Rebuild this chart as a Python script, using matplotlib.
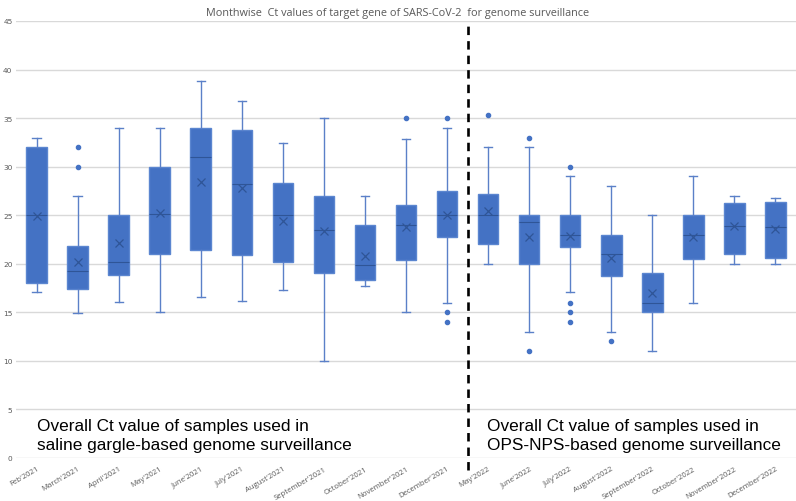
import matplotlib
matplotlib.use("Agg")
import matplotlib.pyplot as plt

months = ["Feb'2021", "March'2021", "April'2021", "May'2021", "June'2021",
          "July'2021", "August'2021", "September'2021", "October'2021",
          "November'2021", "December'2021", "May'2022", "June'2022",
          "July'2022", "August'2022", "September'2022", "October'2022",
          "November'2022", "December'2022"]

whis_lo = [17.1, 14.9, 16.1, 15.0, 16.55, 16.2, 17.3, 10.0, 17.7, 15.0, 16.0,
           20.0, 13.0, 17.1, 13.0, 11.05, 16.0, 20.0, 20.0]
q1 = [18.0, 17.4, 18.85, 21.0, 21.45, 20.9, 20.2, 19.1, 18.3, 20.4, 22.75,
      22.0, 20.0, 21.7, 18.7, 15.0, 20.5, 21.0, 20.6]
medians = [25.0, 19.3, 20.15, 25.1, 31.0, 28.2, 25.0, 23.5, 19.9, 24.0, 25.0,
           25.0, 24.3, 23.0, 21.0, 16.0, 23.0, 23.9, 23.75]
q3 = [32.0, 21.8, 25.0, 30.0, 34.0, 33.8, 28.3, 27.0, 24.0, 26.05, 27.5,
      27.2, 25.0, 25.0, 23.0, 19.0, 25.0, 26.3, 26.4]
whis_hi = [33.0, 27.0, 34.0, 34.0, 38.8, 36.8, 32.4, 35.0, 27.0, 32.9, 34.0,
           32.0, 32.0, 29.0, 28.0, 25.0, 29.0, 27.0, 26.8]
means = [24.9, 20.15, 22.1, 25.2, 28.4, 27.85, 24.4, 23.4, 20.8, 23.8, 25.0,
         25.4, 22.8, 22.9, 20.6, 17.0, 22.8, 23.9, 23.6]
outliers = [[], [30, 32], [], [], [], [], [], [], [], [35], [35, 15, 14],
            [35.3], [33, 11], [30, 16, 15, 14], [12], [], [], [], []]

title = "Monthwise  Ct values of target gene of SARS-CoV-2  for genome surveillance"
note_left = "Overall Ct value of samples used in\nsaline gargle-based genome surveillance"
note_right = "Overall Ct value of samples used in\nOPS-NPS-based genome surveillance"

blue = "#4472C4"
dark = "#2F5597"
grey = "#595959"

stats = []
for i in range(len(months)):
    stats.append(dict(whislo=whis_lo[i], q1=q1[i], med=medians[i], q3=q3[i],
                      whishi=whis_hi[i], mean=means[i], fliers=outliers[i]))

fig = plt.figure(figsize=(7.96, 5.02), dpi=100)
ax = fig.add_axes([16 / 796, 43 / 502, 780 / 796, 437 / 502])

ax.bxp(stats, positions=range(1, len(months) + 1), widths=0.5, capwidths=0.2,
       patch_artist=True, showmeans=True,
       boxprops=dict(facecolor=blue, edgecolor="#5B86D0", linewidth=1),
       whiskerprops=dict(color="#5B80C8", linewidth=1),
       capprops=dict(color="#5B80C8", linewidth=1),
       medianprops=dict(color=dark, linewidth=0.8),
       meanprops=dict(marker="x", markeredgecolor=dark, markersize=6,
                      markeredgewidth=0.9),
       flierprops=dict(marker="o", markerfacecolor=blue, markeredgecolor=blue,
                       markersize=3))

ax.set_xlim(0.5, len(months) + 0.5)
ax.set_ylim(0, 45)
ax.set_yticks(range(0, 46, 5))
ax.yaxis.grid(True, color="#D9D9D9", linewidth=1)
ax.set_axisbelow(True)
for s in ax.spines.values():
    s.set_visible(False)
ax.tick_params(length=0)
ax.tick_params(axis="y", labelsize=5.3, labelcolor=grey, pad=2.5)
ax.set_xticks(range(1, len(months) + 1))
ax.set_xticklabels(months, rotation=30, ha="right", rotation_mode="anchor",
                   fontsize=5.6, color=grey, family="Open Sans")
ax.tick_params(axis="x", pad=5)

# divider between the two surveillance periods
ax.plot([11.5, 11.5], [-1.2, 45], color="black", linestyle=(0, (3.2, 2.3)),
        linewidth=1.9, clip_on=False)

ax.text(1.02, 0.65, note_left, fontsize=12.4, family="Liberation Sans",
        va="bottom", ha="left", linespacing=1.27)
ax.text(11.97, 0.65, note_right, fontsize=12.4, family="Liberation Sans",
        va="bottom", ha="left", linespacing=1.27)

fig.text(0.5, 0.985, title, ha="center", va="top", fontsize=7.8,
         color=grey, family="Open Sans")

fig.savefig("out.png", dpi=100)
